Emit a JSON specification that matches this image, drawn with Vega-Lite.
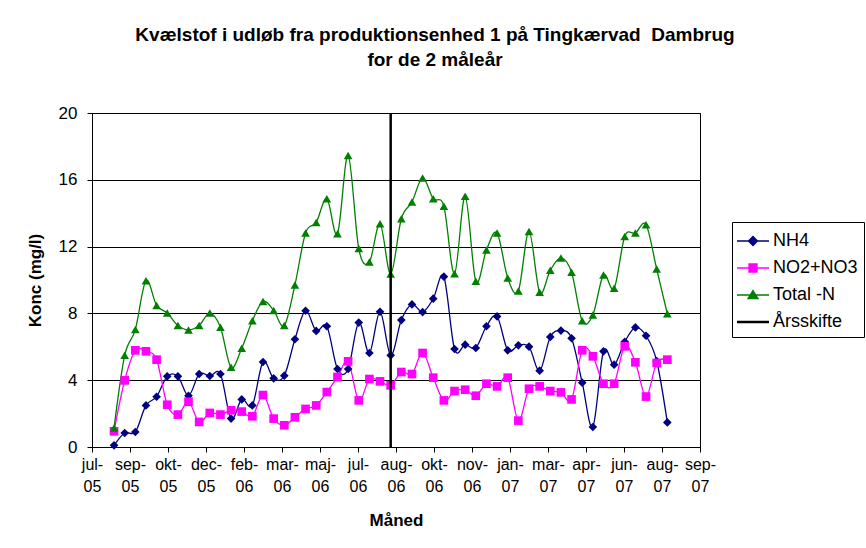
{
  "$schema": "https://vega.github.io/schema/vega-lite/v6.json",
  "width": 608,
  "height": 334,
  "autosize": "none",
  "padding": {"left": 92, "top": 113, "right": 166, "bottom": 101},
  "background": "white",
  "config": {
    "font": "Liberation Sans",
    "view": {"stroke": "black", "strokeWidth": 1}
  },
  "title": {
    "text": ["Kvælstof i udløb fra produktionsenhed 1 på Tingkærvad\u00a0 Dambrug", "for de 2 måleår"],
    "fontSize": 19,
    "fontWeight": "bold",
    "font": "Liberation Sans",
    "color": "black",
    "anchor": "middle",
    "frame": "group",
    "dx": 39,
    "offset": 34,
    "lineHeight": 25
  },
  "datasets": {
    "main": [
      {"d":"2005-08-15","s":"NH4","v":0.10},{"d":"2005-08-29","s":"NH4","v":0.84},{"d":"2005-09-12","s":"NH4","v":0.90},{"d":"2005-09-26","s":"NH4","v":2.49},{"d":"2005-10-10","s":"NH4","v":3.01},{"d":"2005-10-24","s":"NH4","v":4.23},{"d":"2005-11-07","s":"NH4","v":4.23},{"d":"2005-11-21","s":"NH4","v":3.07},{"d":"2005-12-05","s":"NH4","v":4.37},{"d":"2005-12-19","s":"NH4","v":4.25},
      {"d":"2006-01-02","s":"NH4","v":4.37},{"d":"2006-01-16","s":"NH4","v":1.70},{"d":"2006-01-30","s":"NH4","v":2.85},{"d":"2006-02-13","s":"NH4","v":2.49},{"d":"2006-02-27","s":"NH4","v":5.09},{"d":"2006-03-13","s":"NH4","v":4.11},{"d":"2006-03-27","s":"NH4","v":4.27},{"d":"2006-04-10","s":"NH4","v":6.45},{"d":"2006-04-24","s":"NH4","v":8.16},{"d":"2006-05-08","s":"NH4","v":6.95},
      {"d":"2006-05-22","s":"NH4","v":7.23},{"d":"2006-06-05","s":"NH4","v":4.67},{"d":"2006-06-19","s":"NH4","v":4.67},{"d":"2006-07-03","s":"NH4","v":7.45},{"d":"2006-07-17","s":"NH4","v":5.63},{"d":"2006-07-31","s":"NH4","v":8.10},{"d":"2006-08-14","s":"NH4","v":5.49},{"d":"2006-08-28","s":"NH4","v":7.60},{"d":"2006-09-11","s":"NH4","v":8.54},{"d":"2006-09-25","s":"NH4","v":8.08},
      {"d":"2006-10-09","s":"NH4","v":8.88},{"d":"2006-10-23","s":"NH4","v":10.20},{"d":"2006-11-06","s":"NH4","v":5.87},{"d":"2006-11-20","s":"NH4","v":6.13},{"d":"2006-12-04","s":"NH4","v":5.93},{"d":"2006-12-18","s":"NH4","v":7.23},{"d":"2007-01-01","s":"NH4","v":7.82},{"d":"2007-01-15","s":"NH4","v":5.79},{"d":"2007-01-29","s":"NH4","v":6.09},{"d":"2007-02-12","s":"NH4","v":6.01},
      {"d":"2007-02-26","s":"NH4","v":4.57},{"d":"2007-03-12","s":"NH4","v":6.59},{"d":"2007-03-26","s":"NH4","v":6.97},{"d":"2007-04-09","s":"NH4","v":6.51},{"d":"2007-04-23","s":"NH4","v":3.85},{"d":"2007-05-07","s":"NH4","v":1.20},{"d":"2007-05-21","s":"NH4","v":5.73},{"d":"2007-06-04","s":"NH4","v":4.93},{"d":"2007-06-18","s":"NH4","v":6.30},{"d":"2007-07-02","s":"NH4","v":7.16},
      {"d":"2007-07-16","s":"NH4","v":6.66},{"d":"2007-07-30","s":"NH4","v":5.15},{"d":"2007-08-13","s":"NH4","v":1.47},

      {"d":"2005-08-15","s":"NO2+NO3","v":0.94},{"d":"2005-08-29","s":"NO2+NO3","v":3.99},{"d":"2005-09-12","s":"NO2+NO3","v":5.79},{"d":"2005-09-26","s":"NO2+NO3","v":5.73},{"d":"2005-10-10","s":"NO2+NO3","v":5.23},{"d":"2005-10-24","s":"NO2+NO3","v":2.53},{"d":"2005-11-07","s":"NO2+NO3","v":1.94},{"d":"2005-11-21","s":"NO2+NO3","v":2.71},{"d":"2005-12-05","s":"NO2+NO3","v":1.50},{"d":"2005-12-19","s":"NO2+NO3","v":2.04},
      {"d":"2006-01-02","s":"NO2+NO3","v":1.94},{"d":"2006-01-16","s":"NO2+NO3","v":2.20},{"d":"2006-01-30","s":"NO2+NO3","v":2.12},{"d":"2006-02-13","s":"NO2+NO3","v":1.84},{"d":"2006-02-27","s":"NO2+NO3","v":3.11},{"d":"2006-03-13","s":"NO2+NO3","v":1.70},{"d":"2006-03-27","s":"NO2+NO3","v":1.30},{"d":"2006-04-10","s":"NO2+NO3","v":1.78},{"d":"2006-04-24","s":"NO2+NO3","v":2.28},{"d":"2006-05-08","s":"NO2+NO3","v":2.49},
      {"d":"2006-05-22","s":"NO2+NO3","v":3.29},{"d":"2006-06-05","s":"NO2+NO3","v":4.19},{"d":"2006-06-19","s":"NO2+NO3","v":5.13},{"d":"2006-07-03","s":"NO2+NO3","v":2.79},{"d":"2006-07-17","s":"NO2+NO3","v":4.07},{"d":"2006-07-31","s":"NO2+NO3","v":3.93},{"d":"2006-08-14","s":"NO2+NO3","v":3.69},{"d":"2006-08-28","s":"NO2+NO3","v":4.49},{"d":"2006-09-11","s":"NO2+NO3","v":4.37},{"d":"2006-09-25","s":"NO2+NO3","v":5.63},
      {"d":"2006-10-09","s":"NO2+NO3","v":4.15},{"d":"2006-10-23","s":"NO2+NO3","v":2.79},{"d":"2006-11-06","s":"NO2+NO3","v":3.35},{"d":"2006-11-20","s":"NO2+NO3","v":3.43},{"d":"2006-12-04","s":"NO2+NO3","v":3.07},{"d":"2006-12-18","s":"NO2+NO3","v":3.79},{"d":"2007-01-01","s":"NO2+NO3","v":3.63},{"d":"2007-01-15","s":"NO2+NO3","v":4.15},{"d":"2007-01-29","s":"NO2+NO3","v":1.58},{"d":"2007-02-12","s":"NO2+NO3","v":3.49},
      {"d":"2007-02-26","s":"NO2+NO3","v":3.63},{"d":"2007-03-12","s":"NO2+NO3","v":3.35},{"d":"2007-03-26","s":"NO2+NO3","v":3.27},{"d":"2007-04-09","s":"NO2+NO3","v":2.85},{"d":"2007-04-23","s":"NO2+NO3","v":5.79},{"d":"2007-05-07","s":"NO2+NO3","v":5.43},{"d":"2007-05-21","s":"NO2+NO3","v":3.79},{"d":"2007-06-04","s":"NO2+NO3","v":3.79},{"d":"2007-06-18","s":"NO2+NO3","v":6.03},{"d":"2007-07-02","s":"NO2+NO3","v":5.07},
      {"d":"2007-07-16","s":"NO2+NO3","v":3.02},{"d":"2007-07-30","s":"NO2+NO3","v":5.03},{"d":"2007-08-13","s":"NO2+NO3","v":5.23},

      {"d":"2005-08-15","s":"Total -N","v":1.14},{"d":"2005-08-29","s":"Total -N","v":5.49},{"d":"2005-09-12","s":"Total -N","v":7.03},{"d":"2005-09-26","s":"Total -N","v":9.96},{"d":"2005-10-10","s":"Total -N","v":8.48},{"d":"2005-10-24","s":"Total -N","v":8.02},{"d":"2005-11-07","s":"Total -N","v":7.27},{"d":"2005-11-21","s":"Total -N","v":7.01},{"d":"2005-12-05","s":"Total -N","v":7.27},{"d":"2005-12-19","s":"Total -N","v":8.02},
      {"d":"2006-01-02","s":"Total -N","v":7.17},{"d":"2006-01-16","s":"Total -N","v":4.77},{"d":"2006-01-30","s":"Total -N","v":5.91},{"d":"2006-02-13","s":"Total -N","v":7.56},{"d":"2006-02-27","s":"Total -N","v":8.72},{"d":"2006-03-13","s":"Total -N","v":8.18},{"d":"2006-03-27","s":"Total -N","v":7.27},{"d":"2006-04-10","s":"Total -N","v":9.70},{"d":"2006-04-24","s":"Total -N","v":12.81},{"d":"2006-05-08","s":"Total -N","v":13.45},
      {"d":"2006-05-22","s":"Total -N","v":14.87},{"d":"2006-06-05","s":"Total -N","v":12.77},{"d":"2006-06-19","s":"Total -N","v":17.46},{"d":"2006-07-03","s":"Total -N","v":11.88},{"d":"2006-07-17","s":"Total -N","v":11.08},{"d":"2006-07-31","s":"Total -N","v":13.37},{"d":"2006-08-14","s":"Total -N","v":10.36},{"d":"2006-08-28","s":"Total -N","v":13.67},{"d":"2006-09-11","s":"Total -N","v":14.67},{"d":"2006-09-25","s":"Total -N","v":16.11},
      {"d":"2006-10-09","s":"Total -N","v":14.87},{"d":"2006-10-23","s":"Total -N","v":14.41},{"d":"2006-11-06","s":"Total -N","v":10.38},{"d":"2006-11-20","s":"Total -N","v":15.01},{"d":"2006-12-04","s":"Total -N","v":9.92},{"d":"2006-12-18","s":"Total -N","v":11.80},{"d":"2007-01-01","s":"Total -N","v":12.81},{"d":"2007-01-15","s":"Total -N","v":10.12},{"d":"2007-01-29","s":"Total -N","v":9.34},{"d":"2007-02-12","s":"Total -N","v":12.91},
      {"d":"2007-02-26","s":"Total -N","v":9.26},{"d":"2007-03-12","s":"Total -N","v":10.58},{"d":"2007-03-26","s":"Total -N","v":11.32},{"d":"2007-04-09","s":"Total -N","v":10.46},{"d":"2007-04-23","s":"Total -N","v":7.56},{"d":"2007-05-07","s":"Total -N","v":7.90},{"d":"2007-05-21","s":"Total -N","v":10.30},{"d":"2007-06-04","s":"Total -N","v":9.50},{"d":"2007-06-18","s":"Total -N","v":12.61},{"d":"2007-07-02","s":"Total -N","v":12.81},
      {"d":"2007-07-16","s":"Total -N","v":13.31},{"d":"2007-07-30","s":"Total -N","v":10.66},{"d":"2007-08-13","s":"Total -N","v":7.98}
    ],
    "aar": [
      {"d":"2006-08-14","s":"Årsskifte"}
    ]
  },
  "encoding": {
    "x": {
      "field": "d",
      "type": "temporal",
      "scale": {
        "type": "utc",
        "domain": [{"year": 2005, "month": 7, "date": 17, "utc": true}, {"year": 2007, "month": 9, "date": 25, "utc": true}]
      },
      "axis": {
        "values": [
          {"year": 2005, "month": 7, "date": 17, "utc": true},
          {"year": 2005, "month": 9, "date": 5, "utc": true},
          {"year": 2005, "month": 10, "date": 25, "utc": true},
          {"year": 2005, "month": 12, "date": 14, "utc": true},
          {"year": 2006, "month": 2, "date": 2, "utc": true},
          {"year": 2006, "month": 3, "date": 24, "utc": true},
          {"year": 2006, "month": 5, "date": 13, "utc": true},
          {"year": 2006, "month": 7, "date": 2, "utc": true},
          {"year": 2006, "month": 8, "date": 21, "utc": true},
          {"year": 2006, "month": 10, "date": 10, "utc": true},
          {"year": 2006, "month": 11, "date": 29, "utc": true},
          {"year": 2007, "month": 1, "date": 18, "utc": true},
          {"year": 2007, "month": 3, "date": 9, "utc": true},
          {"year": 2007, "month": 4, "date": 28, "utc": true},
          {"year": 2007, "month": 6, "date": 17, "utc": true},
          {"year": 2007, "month": 8, "date": 6, "utc": true},
          {"year": 2007, "month": 9, "date": 25, "utc": true}
        ],
        "labelExpr": "[['jan','feb','mar','apr','maj','jun','jul','aug','sep','okt','nov','dec'][utcmonth(datum.value)] + '-', utcFormat(datum.value, '%y')]",
        "grid": false,
        "domainColor": "black",
        "tickColor": "black",
        "tickSize": 5,
        "labelFontSize": 16,
        "labelColor": "black",
        "labelPadding": 4,
        "labelLineHeight": 22,
        "labelAngle": 0,
        "labelAlign": "center",
        "labelBaseline": "top",
        "labelOverlap": false,
        "labelFlush": false,
        "title": "Måned",
        "titleFontSize": 17,
        "titleFontWeight": "bold",
        "titleColor": "black",
        "titlePadding": 18
      }
    }
  },
  "layer": [
    {
      "data": {"name": "main"},
      "mark": {"type": "line", "interpolate": "cardinal", "strokeWidth": 1.3},
      "encoding": {
        "y": {
          "field": "v",
          "type": "quantitative",
          "scale": {"domain": [0, 20], "nice": false},
          "axis": {
            "values": [0, 4, 8, 12, 16, 20],
            "grid": true,
            "gridColor": "black",
            "gridOpacity": 1,
            "gridWidth": 1,
            "domainColor": "black",
            "tickColor": "black",
            "tickSize": 5,
            "labelPadding": 10,
            "labelFontSize": 17,
            "labelColor": "black",
            "title": "Konc (mg/l)",
            "titleFontSize": 17,
            "titleFontWeight": "bold",
            "titleColor": "black",
            "titlePadding": 14
          }
        },
        "color": {
          "field": "s",
          "type": "nominal",
          "scale": {
            "domain": ["NH4", "NO2+NO3", "Total -N", "Årsskifte"],
            "range": ["#000080", "#FF00FF", "#008000", "#000000"]
          },
          "legend": {
            "title": " ",
            "titleFontSize": 1,
            "titlePadding": 3,
            "orient": "none",
            "legendX": 640,
            "legendY": 109,
            "strokeColor": "black",
            "fillColor": "white",
            "padding": 6,
            "labelFontSize": 18,
            "labelColor": "black",
            "symbolSize": 4,
            "symbolStrokeWidth": 1.3,
            "rowPadding": 9,
            "labelOffset": 17,
            "encode": {
              "symbols": {
                "update": {
                  "shape": {"signal": "datum.value === 'NH4' ? 'M-10,0H22M6,-4.5L10.5,0L6,4.5L1.5,0Z' : datum.value === 'NO2+NO3' ? 'M-10,0H22M2,-4H10V4H2Z' : datum.value === 'Total -N' ? 'M-10,0H22M6,-4.5L11,3.5H1Z' : 'M-10,0H22'"},
                  "size": {"value": 4},
                  "fill": {"signal": "scale('color', datum.value)"},
                  "stroke": {"signal": "scale('color', datum.value)"},
                  "strokeWidth": {"signal": "datum.value === 'Årsskifte' ? 2.5 : 1.3"},
                  "opacity": {"value": 1}
                }
              }
            }
          }
        }
      }
    },
    {
      "data": {"name": "main"},
      "mark": {"type": "point", "filled": true, "opacity": 1, "size": 75},
      "encoding": {
        "y": {"field": "v", "type": "quantitative"},
        "color": {"field": "s", "type": "nominal"},
        "shape": {
          "field": "s",
          "type": "nominal",
          "scale": {"domain": ["NH4", "NO2+NO3", "Total -N"], "range": ["diamond", "square", "triangle-up"]},
          "legend": null
        }
      }
    },
    {
      "data": {"name": "aar"},
      "mark": {"type": "rule", "strokeWidth": 2.5},
      "encoding": {
        "color": {"field": "s", "type": "nominal"}
      }
    }
  ]
}
